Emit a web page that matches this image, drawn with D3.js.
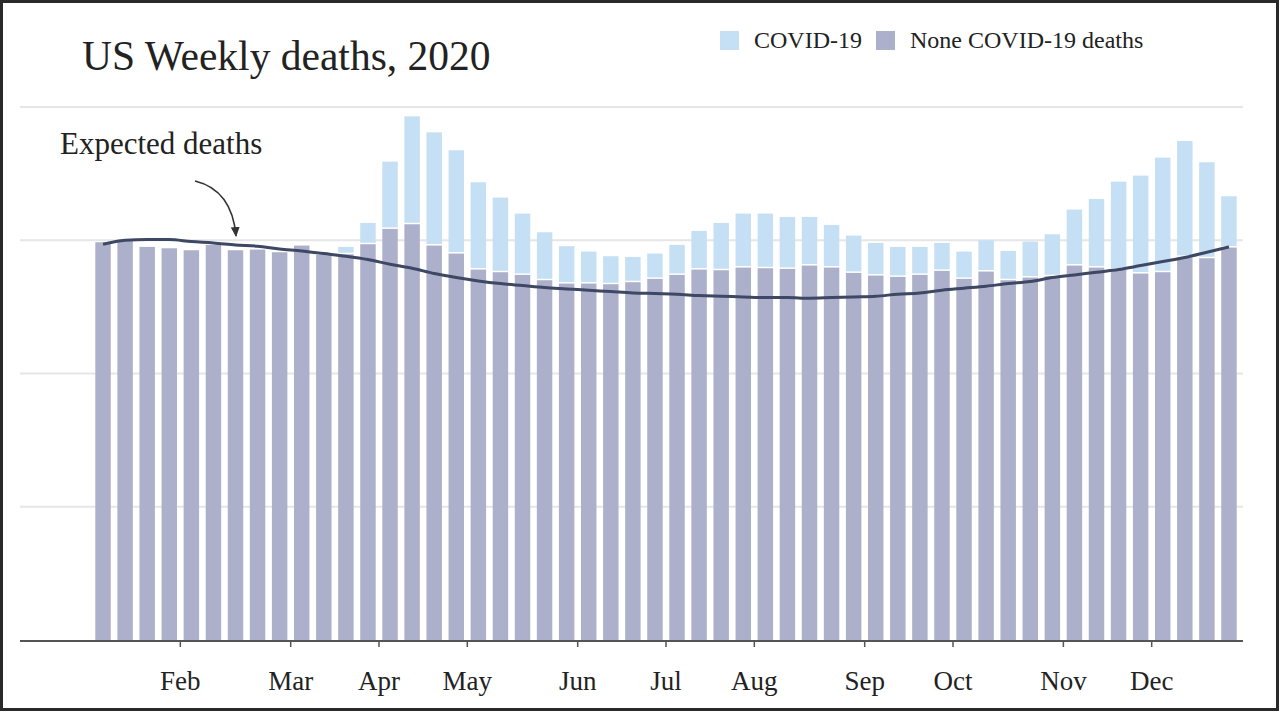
<!DOCTYPE html>
<html>
<head>
<meta charset="utf-8">
<script src="https://cdn.jsdelivr.net/npm/d3@7"></script>
<style>
  body { margin: 0; background: #fff; }
  svg text { font-family: "Liberation Serif", "Times New Roman", serif; fill: #222; }
</style>
</head>
<body>
<svg id="chart" width="1280" height="713"></svg>
<script>
// week ending dates (Saturdays), 2020
var weeks = [
  "2020-01-04","2020-01-11","2020-01-18","2020-01-25",
  "2020-02-01","2020-02-08","2020-02-15","2020-02-22","2020-02-29",
  "2020-03-07","2020-03-14","2020-03-21","2020-03-28",
  "2020-04-04","2020-04-11","2020-04-18","2020-04-25",
  "2020-05-02","2020-05-09","2020-05-16","2020-05-23","2020-05-30",
  "2020-06-06","2020-06-13","2020-06-20","2020-06-27",
  "2020-07-04","2020-07-11","2020-07-18","2020-07-25",
  "2020-08-01","2020-08-08","2020-08-15","2020-08-22","2020-08-29",
  "2020-09-05","2020-09-12","2020-09-19","2020-09-26",
  "2020-10-03","2020-10-10","2020-10-17","2020-10-24","2020-10-31",
  "2020-11-07","2020-11-14","2020-11-21","2020-11-28",
  "2020-12-05","2020-12-12","2020-12-19","2020-12-26"
];

// deaths per week
var nonCovid = [
  59700, 60100, 59000, 58800, 58500, 59300, 58500, 58600, 58200, 59200,
  57800, 57900, 59400, 61700, 62400, 59200, 58000, 55600, 55200, 54800,
  54000, 53500, 53500, 53400, 53700, 54200, 54800, 55600, 55500, 55900,
  55800, 55700, 56200, 55900, 55100, 54700, 54500, 54800, 55400, 54200,
  55300, 54000, 54400, 54600, 56200, 55900, 55600, 55000, 55200, 57500,
  57300, 58900
];
var covid = [
  0, 0, 0, 0, 0, 0, 0, 0, 0, 0,
  0, 1100, 3200, 10100, 16200, 17000, 15500, 13100, 11200, 9200,
  7200, 5600, 4800, 4200, 3800, 3800, 4500, 5800, 7100, 8100,
  8200, 7800, 7300, 6400, 5600, 4900, 4500, 4200, 4200, 4100,
  4700, 4400, 5400, 6300, 8400, 10300, 13200, 14700, 17200, 17400,
  14400, 7700
];
var expected = [
  59400, 60000, 60100, 60100, 59800, 59600, 59300, 59100, 58700, 58400,
  58000, 57600, 57100, 56400, 55800, 55000, 54400, 53900, 53500, 53200,
  52900, 52700, 52500, 52300, 52100, 52000, 51900, 51700, 51600, 51500,
  51400, 51400, 51300, 51400, 51500, 51600, 51900, 52100, 52500, 52800,
  53100, 53500, 53800, 54400, 54800, 55200, 55600, 56200, 56800, 57400,
  58200, 59000
];
var gridValues = [20000, 40000, 60000, 80000];
var seriesNames = ["COVID-19", "None COVID-19 deaths"];
var colors = { covid: "#c5dff4", other: "#adb0ca", line: "#3e4763" };

var svg = d3.select("#chart");
var parse = d3.timeParse("%Y-%m-%d");
var dates = weeks.map(parse);

var rows = dates.map(function(d, i) {
  return { date: d, other: nonCovid[i], covid: covid[i], expected: expected[i] };
});

var x = d3.scaleBand()
  .domain(dates)
  .range([92, 1240])
  .paddingInner(0.3)
  .paddingOuter(0.15);

var y = d3.scaleLinear()
  .domain([0, 80000])
  .range([640, 107]);

// frame round the picture
svg.append("rect")
  .attr("x", 1.5).attr("y", 1.5)
  .attr("width", 1276).attr("height", 708)
  .attr("fill", "none")
  .attr("stroke", "#2a2a2a")
  .attr("stroke-width", 3);

// gridlines
svg.append("g")
  .selectAll("line")
  .data(gridValues).enter()
  .append("line")
  .attr("x1", 20).attr("x2", 1243)
  .attr("y1", function(d) { return y(d); })
  .attr("y2", function(d) { return y(d); })
  .attr("stroke", "#e6e6e6")
  .attr("stroke-width", 2);

// bars
var bars = svg.append("g").selectAll("g")
  .data(rows).enter()
  .append("g");

bars.append("rect")
  .attr("x", function(d) { return x(d.date); })
  .attr("width", x.bandwidth())
  .attr("y", function(d) { return y(d.other); })
  .attr("height", function(d) { return y(0) - y(d.other); })
  .attr("fill", colors.other);

bars.filter(function(d) { return d.covid > 0; })
  .append("rect")
  .attr("x", function(d) { return x(d.date); })
  .attr("width", x.bandwidth())
  .attr("y", function(d) { return y(d.other + d.covid); })
  .attr("height", function(d) { return Math.max(0, y(d.other) - y(d.other + d.covid) - 1.5); })
  .attr("fill", colors.covid);

// baseline + month ticks
var gap = x.step() * x.paddingInner();
svg.append("line")
  .attr("x1", 20).attr("x2", 1243)
  .attr("y1", y(0) + 1).attr("y2", y(0) + 1)
  .attr("stroke", "#555")
  .attr("stroke-width", 2);

var tickDates = dates.filter(function(d, i) {
  return i > 0 && d.getMonth() !== dates[i - 1].getMonth();
});

var xAxis = svg.append("g")
  .attr("transform", "translate(0," + (y(0) + 1) + ")")
  .call(d3.axisBottom(x)
    .tickValues(tickDates)
    .tickSize(6)
    .tickPadding(24)
    .tickFormat(d3.timeFormat("%b")));

xAxis.select(".domain").remove();
xAxis.selectAll(".tick")
  .attr("transform", function(d) { return "translate(" + (x(d) - gap / 2) + ",0)"; });
xAxis.selectAll(".tick line").attr("stroke", "#555").attr("stroke-width", 1.5);
xAxis.selectAll(".tick text")
  .attr("font-family", "Liberation Serif, serif")
  .attr("font-size", 27)
  .attr("fill", "#222");

// expected deaths line
var line = d3.line()
  .x(function(d) { return x(d.date) + x.bandwidth() / 2; })
  .y(function(d) { return y(d.expected); })
  .curve(d3.curveMonotoneX);

svg.append("path")
  .datum(rows)
  .attr("d", line)
  .attr("fill", "none")
  .attr("stroke", colors.line)
  .attr("stroke-width", 3);

// annotation
svg.append("text")
  .attr("x", 60).attr("y", 154)
  .attr("font-size", 31)
  .text("Expected deaths");

svg.append("defs").append("marker")
  .attr("id", "arrowhead")
  .attr("viewBox", "0 0 10 10")
  .attr("refX", 8).attr("refY", 5)
  .attr("markerWidth", 7).attr("markerHeight", 7)
  .attr("orient", "auto")
  .append("path")
  .attr("d", "M0,1 L9,5 L0,9 Z")
  .attr("fill", "#333");

svg.append("path")
  .attr("d", "M195,181 Q232,190 236,236")
  .attr("fill", "none")
  .attr("stroke", "#333")
  .attr("stroke-width", 1.6)
  .attr("marker-end", "url(#arrowhead)");

// title
svg.append("text")
  .attr("x", 82).attr("y", 70)
  .attr("font-size", 41.5)
  .text("US Weekly deaths, 2020");

// legend
var legend = svg.append("g").attr("transform", "translate(720,31)");
var legendItems = [
  { name: seriesNames[0], color: colors.covid, dx: 0 },
  { name: seriesNames[1], color: colors.other, dx: 156 }
];
var li = legend.selectAll("g").data(legendItems).enter()
  .append("g")
  .attr("transform", function(d) { return "translate(" + d.dx + ",0)"; });
li.append("rect")
  .attr("width", 19).attr("height", 19)
  .attr("fill", function(d) { return d.color; });
li.append("text")
  .attr("x", 34).attr("y", 17)
  .attr("font-size", 24)
  .text(function(d) { return d.name; });
</script>
</body>
</html>
